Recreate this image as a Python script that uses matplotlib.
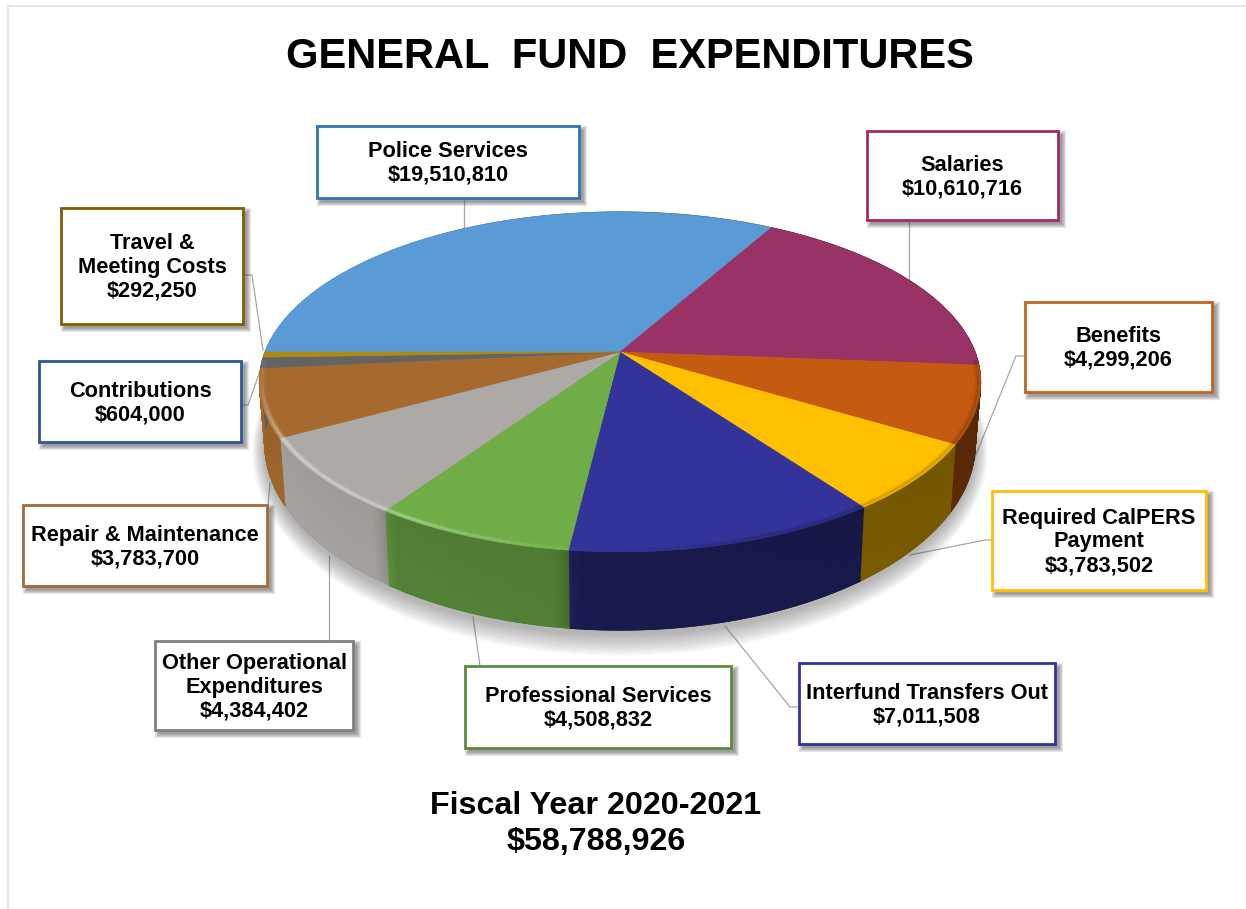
"""General Fund expenditures drawn as a perspective 3D pie, with callout boxes."""

import numpy as np
import matplotlib
matplotlib.use('Agg')
import matplotlib.pyplot as plt
from matplotlib.collections import PolyCollection
from matplotlib.colors import to_rgb
from matplotlib.patches import Rectangle, Polygon

plt.rcParams['font.family'] = ['Liberation Sans', 'DejaVu Sans']

# Data
categories = ['Police Services', 'Salaries', 'Benefits', 'Required CalPERS\nPayment',
              'Interfund Transfers Out', 'Professional Services',
              'Other Operational\nExpenditures', 'Repair & Maintenance',
              'Contributions', 'Travel &\nMeeting Costs']
values = [19510810, 10610716, 4299206, 3783502, 7011508,
          4508832, 4384402, 3783700, 604000, 292250]
total = 58788926
period = 'Fiscal Year 2020-2021'

# Colours of the top faces and of the callout borders
top_colors = ['#5B9BD5', '#993366', '#C55A11', '#FFC000', '#333399',
              '#70AD47', '#ADA9A7', '#A66A2E', '#636363', '#AD8A12']
border_colors = ['#2E75B6', '#A02B68', '#C5621F', '#FFC000', '#333399',
                 '#5B8A3C', '#7F7F7F', '#A5693A', '#2F5597', '#7F6000']

# Callout layout in pixels: left, top, right, bottom
boxes = [(317, 126, 579, 198), (867, 131, 1058, 220), (1025, 302, 1212, 392),
         (992, 491, 1206, 590), (799, 663, 1055, 744), (465, 666, 731, 748),
         (155, 641, 353, 730), (23, 505, 267, 586), (39, 361, 241, 442),
         (61, 208, 243, 324)]
leaders = [[(464, 198), (464, 228)], [(909, 220), (909, 280)],
           [(1025, 356), (1016, 356), (971, 467)], [(992, 540), (985, 540), (910, 555)],
           [(799, 707), (790, 707), (725, 626)], [(480, 666), (473, 617)],
           [(329, 641), (329, 556)], [(268, 505), (270, 483)],
           [(241, 405), (248, 405), (264, 360)], [(243, 275), (252, 275), (263, 350)]]

# Pie geometry: perspective ellipse around the apex, and how the base is offset from it
CX, CY = 620, 352
RX, RY = 355, 164.7
PERSP = 0.176
BASE_X, BASE_Y, DEPTH = 0.985, 1.096, 59
START = 180


def top_xy(theta, r=1.0):
    """Screen position of a point on the top face, theta in degrees counter-clockwise."""
    t = np.radians(theta)
    px, py = r * np.cos(t), -r * np.sin(t)
    w = 1 - PERSP * py
    return CX + RX * px / w, CY + RY * py / w


def side_xy(theta, h):
    """Screen position on the rim wall, h=0 at the top edge and h=1 at the base."""
    x, y = top_xy(theta)
    bx = CX + (x - CX) * BASE_X
    by = CY + DEPTH + (y - CY) * BASE_Y
    return x + (bx - x) * h, y + (by - y) * h


def tint(color, amount):
    """Scale a colour down below 1, or push it towards white above 1."""
    c = np.array(to_rgb(color))
    if amount <= 1:
        return tuple(c * amount)
    return tuple(c + (1 - c) * (amount - 1))


def wall_shade(theta):
    # Light comes from the left, the wall darkens towards the right
    px = np.cos(np.radians(theta))
    return np.interp(px, [-1, -0.6, -0.54, -0.15, -0.09, 1],
                     [0.95, 0.93, 0.74, 0.72, 0.5, 0.45])


def rim_shade(theta):
    # Bevel along the top edge: bright on the left, dark on the right
    px = np.cos(np.radians(theta))
    return np.interp(px, [-1, -0.88, -0.5, -0.12, 0.3, 1], [1.1, 1.5, 1.4, 1.05, 0.82, 0.8])


fig = plt.figure(figsize=(12.46, 9.09), dpi=100)
ax = fig.add_axes([0, 0, 1, 1])
ax.set_xlim(0, 1246)
ax.set_ylim(909, 0)
ax.axis('off')

# Thin page outline on the left and top
ax.plot([8, 8, 1246], [909, 6, 6], color='#E2E2E2', lw=1.2, zorder=0)

# Leader lines sit underneath the pie and the boxes
for pts in leaders:
    xs, ys = zip(*pts)
    ax.plot(xs, ys, color='#A6A6A6', lw=0.9, zorder=1)

# Soft shadow under the pie, built from stacked translucent outlines
ring = np.linspace(0, 360, 361)
bx, by = side_xy(ring, 1.0)
LAYERS = 22
for k in range(LAYERS):
    f = (LAYERS - k) / LAYERS
    sx = CX + (bx - CX) * (1 + 0.035 * f)
    sy = CY + DEPTH + 4 + (by - CY - DEPTH) * (1 + 0.10 * f)
    ax.add_patch(Polygon(np.column_stack([sx, sy]), closed=True, fc='#606060',
                         ec='none', alpha=0.022, zorder=2))

# Slice angles run clockwise from the start angle, sized by value
sweep = np.array(values) / total * 360
ends = START - np.cumsum(sweep)
starts = np.concatenate([[START], ends[:-1]])

# Rim walls as smooth meshes, so the shading can vary with angle and height
levels = np.linspace(0, 1, 5)
for a0, a1, color in zip(starts, ends, top_colors):
    angles = np.linspace(a0, a1, max(int((a0 - a1) * 2), 3))
    tt, hh = np.meshgrid(angles, levels, indexing='ij')
    xx, yy = side_xy(tt, hh)
    rgb = np.zeros(tt.shape + (3,))
    for i, t in enumerate(angles):
        for j, h in enumerate(levels):
            rgb[i, j] = tint(color, wall_shade(t) * (0.98 + 0.04 * h))
    ax.pcolormesh(xx, yy, rgb, shading='gouraud', zorder=3)
    # Stroke along the base softens the mesh edge
    ex, ey = side_xy(angles, 1.0)
    ax.plot(ex, ey, color=tint(color, wall_shade((a0 + a1) / 2)), lw=0.8, zorder=3)

# Top faces
for a0, a1, color in zip(starts, ends, top_colors):
    angles = np.linspace(a0, a1, max(int((a0 - a1) * 2), 3))
    xs, ys = top_xy(angles)
    outline = np.column_stack([np.r_[CX, xs], np.r_[CY, ys]])
    ax.add_patch(Polygon(outline, closed=True, fc=color, ec=color, lw=0.4, zorder=4))

# Bevel strip along the outer edge of the top faces, front half only
for a0, a1, color in zip(starts, ends, top_colors):
    angles = np.linspace(a0, a1, max(int((a0 - a1) * 2), 3))
    quads, faces = [], []
    for t0, t1 in zip(angles[:-1], angles[1:]):
        mid = (t0 + t1) / 2
        if np.sin(np.radians(mid)) > -0.05:
            continue
        full = rim_shade(mid)
        rings = [0.985, 0.99, 0.995, 1.0]
        mix = [0.35, 1.0, 0.6]
        for j in range(3):
            amount = 1 + (full - 1) * mix[j]
            x00, y00 = top_xy(t0, rings[j])
            x10, y10 = top_xy(t1, rings[j])
            x11, y11 = top_xy(t1, rings[j + 1])
            x01, y01 = top_xy(t0, rings[j + 1])
            quads.append([(x00, y00), (x10, y10), (x11, y11), (x01, y01)])
            faces.append(tint(color, amount))
    if quads:
        ax.add_collection(PolyCollection(quads, facecolors=faces, edgecolors=faces,
                                         linewidths=0.2, zorder=5))

# Callout boxes with drop shadow
for name, value, box, edge in zip(categories, values, boxes, border_colors):
    left, top, right, bottom = box
    w, h = right - left, bottom - top
    for k in range(5):
        pad = 4 - k
        ax.add_patch(Rectangle((left + 4 - pad, top + 4 - pad), w + 2 * pad, h + 2 * pad,
                               fc='#404040', ec='none', alpha=0.13, zorder=6))
    ax.add_patch(Rectangle((left, top), w, h, fc='white', ec=edge, lw=2.0, zorder=7))
    ax.text((left + right) / 2, (top + bottom) / 2 + 1.5, f'{name}\n${value:,}',
            ha='center', va='center', ma='center', fontsize=15.7, fontweight='bold',
            linespacing=1.17, color='black', zorder=8)

ax.text(630, 52, 'GENERAL  FUND  EXPENDITURES', ha='center', va='center_baseline',
        fontsize=30, fontweight='bold', color='black')
ax.text(596, 824, f'{period}\n${total:,}', ha='center', va='center', ma='center',
        fontsize=23.2, fontweight='bold', linespacing=1.27, color='black')

fig.savefig('out.png', dpi=100, facecolor='white')
